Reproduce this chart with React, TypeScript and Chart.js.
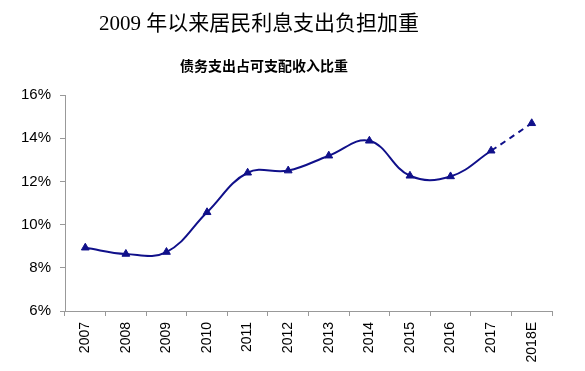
import React, { useEffect, useRef } from "react";
import { Chart, registerables } from "chart.js";

Chart.register(...registerables);

const titleText = "2009 年以来居民利息支出负担加重";
const subtitleText = "债务支出占可支配收入比重";
const categories = ["2007", "2008", "2009", "2010", "2011", "2012", "2013", "2014", "2015", "2016", "2017", "2018E"];
const debtRatio = [8.93, 8.64, 8.73, 10.57, 12.4, 12.5, 13.19, 13.88, 12.26, 12.23, 13.42, 14.69];
const yTicks = [6, 8, 10, 12, 14, 16];

const LINE = "#10108a";

const titlePlugin = {
  id: "titles",
  afterDraw(chart: any) {
    const ctx = chart.ctx;
    ctx.save();
    ctx.fillStyle = "#000";
    ctx.textAlign = "center";
    ctx.textBaseline = "middle";
    ctx.font = '21px "Liberation Serif", "Noto Sans CJK SC", serif';
    ctx.fillText(titleText, 259, 24);
    ctx.font = 'bold 14px "Noto Sans CJK SC", sans-serif';
    ctx.fillText(subtitleText, 264, 66);
    ctx.restore();
  },
};

export default function App() {
  const ref = useRef<HTMLCanvasElement>(null);
  useEffect(() => {
    const chart = new Chart(ref.current!, {
      type: "line",
      data: {
        labels: categories,
        datasets: [
          {
            data: debtRatio,
            borderColor: LINE,
            backgroundColor: LINE,
            borderWidth: 2,
            tension: 0.4,
            pointStyle: "triangle",
            pointRadius: 4.5,
            pointBorderWidth: 1,
            pointBackgroundColor: LINE,
            pointBorderColor: LINE,
            segment: {
              borderDash: (c: any) => (c.p1DataIndex === categories.length - 1 ? [6, 5] : undefined),
            },
          },
        ],
      },
      options: {
        animation: false,
        responsive: false,
        maintainAspectRatio: false,
        layout: { padding: { top: 95, right: 33, left: 0, bottom: 0 } },
        plugins: { legend: { display: false }, title: { display: false }, tooltip: { enabled: false } },
        scales: {
          x: {
            type: "category",
            offset: true,
            grid: { offset: true, drawOnChartArea: false, drawTicks: true, tickLength: 5, color: "#999" },
            border: { color: "#999", width: 1 },
            ticks: {
              minRotation: 90,
              maxRotation: 90,
              color: "#000",
              font: { family: '"Liberation Sans", Arial, sans-serif', size: 14 },
              padding: 6,
            },
            afterFit: (s: any) => {
              s.height = 60;
            },
          },
          y: {
            min: 6,
            max: 16,
            afterBuildTicks: (s: any) => {
              s.ticks = yTicks.map((v) => ({ value: v }));
            },
            grid: { drawOnChartArea: false, drawTicks: true, tickLength: 5, color: "#999" },
            border: { color: "#999", width: 1 },
            ticks: {
              color: "#000",
              font: { family: '"Liberation Sans", Arial, sans-serif', size: 15 },
              padding: 9,
              callback: (v: any) => v + "%",
            },
            afterFit: (s: any) => {
              s.width = 65;
            },
          },
        },
      },
      plugins: [titlePlugin],
    });
    return () => chart.destroy();
  }, []);
  return (
    <div style={{ position: "fixed", left: 0, top: 0, width: 585, height: 371, background: "#fff" }}>
      <canvas ref={ref} width={585} height={371} style={{ width: 585, height: 371 }} />
    </div>
  );
}
